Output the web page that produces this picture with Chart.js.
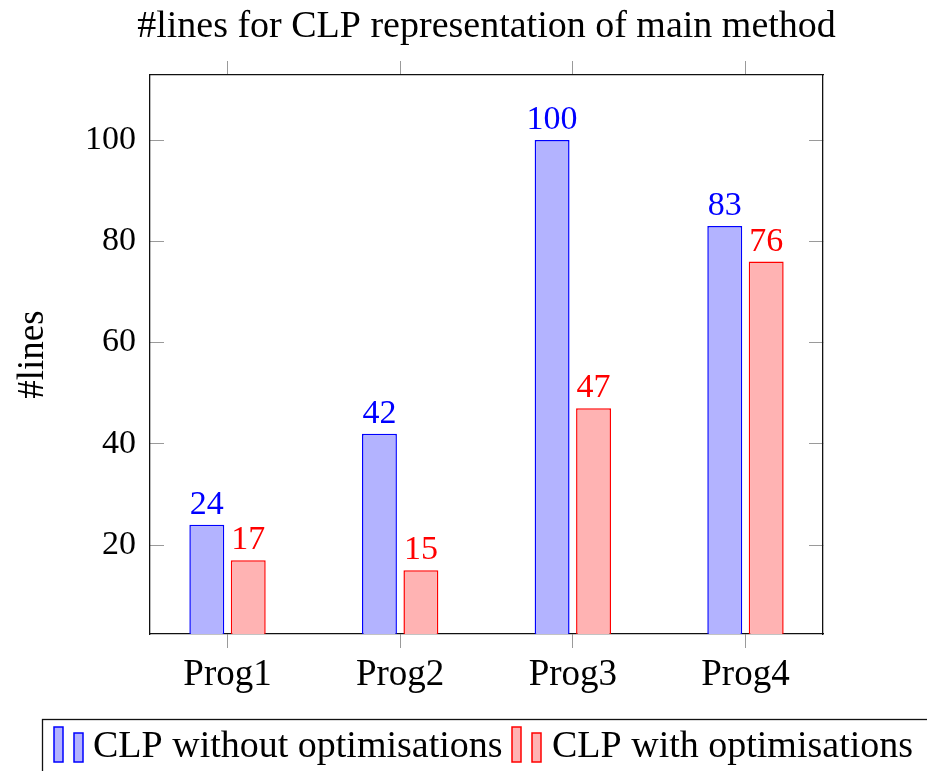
<!DOCTYPE html>
<html>
<head>
<meta charset="utf-8">
<script src="https://cdn.jsdelivr.net/npm/chart.js@4.4.0/dist/chart.umd.min.js"></script>
<style>
  html, body { margin: 0; padding: 0; background: #fff; }
</style>
</head>
<body>
<canvas id="grafico" width="927" height="771"></canvas>
<script>
// ----------------------
// Datos
// ----------------------
const programas = ['Prog1', 'Prog2', 'Prog3', 'Prog4'];
const sinOptim = [24, 42, 100, 83];
const conOptim = [17, 15, 47, 76];
const nombresSeries = ['CLP without optimisations', 'CLP with optimisations'];
const yTicks = [20, 40, 60, 80, 100];
const titulo = '#lines for CLP representation of main method';
const tituloY = '#lines';

// ----------------------
// Estilos
// ----------------------
const FUENTE = 'Liberation Serif';
const AZUL = 'rgb(0,0,255)', AZUL_CLARO = 'rgb(179,179,255)';
const ROJO = 'rgb(255,0,0)', ROJO_CLARO = 'rgb(255,179,179)';
const MARCO = '#111';
const TICK = '#9a9a9a';

Chart.defaults.font.family = FUENTE;
Chart.defaults.color = '#000';

const aPuntos = vals => vals.map((v, i) => ({ x: i, y: v }));
const indices = programas.map((_, i) => i);

// fija el tamaño de cada eje para que el área del gráfico coincida
const fijar = (prop, val) => scale => { scale[prop] = val; };

// ----------------------
// Plugins propios
// ----------------------
const tituloPlugin = {
  id: 'tituloArriba',
  afterDraw(chart) {
    const { ctx, chartArea } = chart;
    ctx.save();
    ctx.font = `38px "${FUENTE}"`;
    ctx.fillStyle = '#000';
    ctx.textAlign = 'center';
    ctx.textBaseline = 'alphabetic';
    ctx.fillText(titulo, (chartArea.left + chartArea.right) / 2, 37);
    ctx.restore();
  }
};

const etiquetasPlugin = {
  id: 'valoresBarras',
  afterDatasetsDraw(chart) {
    const { ctx } = chart;
    ctx.save();
    ctx.font = `34px "${FUENTE}"`;
    ctx.textAlign = 'center';
    ctx.textBaseline = 'alphabetic';
    chart.data.datasets.forEach((ds, di) => {
      const meta = chart.getDatasetMeta(di);
      ctx.fillStyle = ds.borderColor;
      meta.data.forEach((bar, i) => {
        ctx.fillText(String(ds.data[i].y), bar.x, bar.y - 11);
      });
    });
    ctx.restore();
  }
};

const leyendaPlugin = {
  id: 'leyendaCaja',
  afterDraw(chart) {
    const { ctx } = chart;
    const iconX = [54, 512];
    const textoX = [93, 552];
    ctx.save();
    ctx.strokeStyle = MARCO;
    ctx.lineWidth = 1.3;
    ctx.strokeRect(42.5, 719.5, 900, 80);
    ctx.font = `38px "${FUENTE}"`;
    ctx.textBaseline = 'alphabetic';
    chart.data.datasets.forEach((ds, di) => {
      ctx.fillStyle = ds.backgroundColor;
      ctx.strokeStyle = ds.borderColor;
      ctx.lineWidth = 1.5;
      const x0 = iconX[di];
      ctx.fillRect(x0, 727, 9, 35);
      ctx.strokeRect(x0, 727, 9, 35);
      ctx.fillRect(x0 + 20, 733, 9, 29);
      ctx.strokeRect(x0 + 20, 733, 9, 29);
      ctx.fillStyle = '#000';
      ctx.fillText(ds.label, textoX[di], 757);
    });
    ctx.restore();
  }
};

// ----------------------
// Gráfico
// ----------------------
const ctx = document.getElementById('grafico').getContext('2d');
new Chart(ctx, {
  type: 'bar',
  data: {
    datasets: [{
      label: nombresSeries[0],
      data: aPuntos(sinOptim),
      backgroundColor: AZUL_CLARO,
      borderColor: AZUL,
      borderWidth: 1.5,
      borderSkipped: 'start'
    }, {
      label: nombresSeries[1],
      data: aPuntos(conOptim),
      backgroundColor: ROJO_CLARO,
      borderColor: ROJO,
      borderWidth: 1.5,
      borderSkipped: 'start'
    }]
  },
  options: {
    responsive: false,
    animation: false,
    layout: { padding: 0 },
    categoryPercentage: 0.48,
    barPercentage: 0.843,
    plugins: {
      legend: { display: false },
      tooltip: { enabled: false },
      title: { display: false }
    },
    scales: {
      x: {
        type: 'linear',
        position: 'bottom',
        min: -0.449,
        max: 3.449,
        offset: false,
        afterBuildTicks: s => { s.ticks = indices.map(v => ({ value: v })); },
        afterFit: fijar('height', 137),
        grid: { offset: false, drawOnChartArea: false, drawTicks: true, tickLength: 14, color: TICK, lineWidth: 1 },
        border: { display: true, color: MARCO, width: 1.3 },
        ticks: {
          font: { size: 37 },
          color: '#000',
          padding: 5,
          maxRotation: 0,
          autoSkip: false,
          callback: v => programas[v]
        }
      },
      xArriba: {
        type: 'linear',
        position: 'top',
        min: -0.449,
        max: 3.449,
        offset: false,
        afterBuildTicks: s => { s.ticks = indices.map(v => ({ value: v })); },
        afterFit: fijar('height', 75),
        grid: { offset: false, drawOnChartArea: false, drawTicks: true, tickLength: 14, color: TICK, lineWidth: 1 },
        border: { display: true, color: MARCO, width: 1.3 },
        ticks: { display: false }
      },
      y: {
        type: 'linear',
        position: 'left',
        min: 2.42,
        max: 112.84,
        afterBuildTicks: s => { s.ticks = yTicks.map(v => ({ value: v })); },
        afterFit: fijar('width', 150),
        grid: { drawOnChartArea: false, drawTicks: true, tickLength: -14, color: TICK, lineWidth: 1 },
        border: { display: true, color: MARCO, width: 1.3 },
        title: {
          display: true,
          text: tituloY,
          font: { size: 37 },
          color: '#000',
          padding: { top: 11, bottom: 0 }
        },
        ticks: { font: { size: 34 }, color: '#000', padding: 28 }
      },
      yDerecha: {
        type: 'linear',
        position: 'right',
        min: 2.42,
        max: 112.84,
        afterBuildTicks: s => { s.ticks = yTicks.map(v => ({ value: v })); },
        afterFit: fijar('width', 104),
        grid: { drawOnChartArea: false, drawTicks: true, tickLength: -14, color: TICK, lineWidth: 1 },
        border: { display: true, color: MARCO, width: 1.3 },
        ticks: { display: false }
      }
    }
  },
  plugins: [tituloPlugin, etiquetasPlugin, leyendaPlugin]
});
</script>
</body>
</html>
